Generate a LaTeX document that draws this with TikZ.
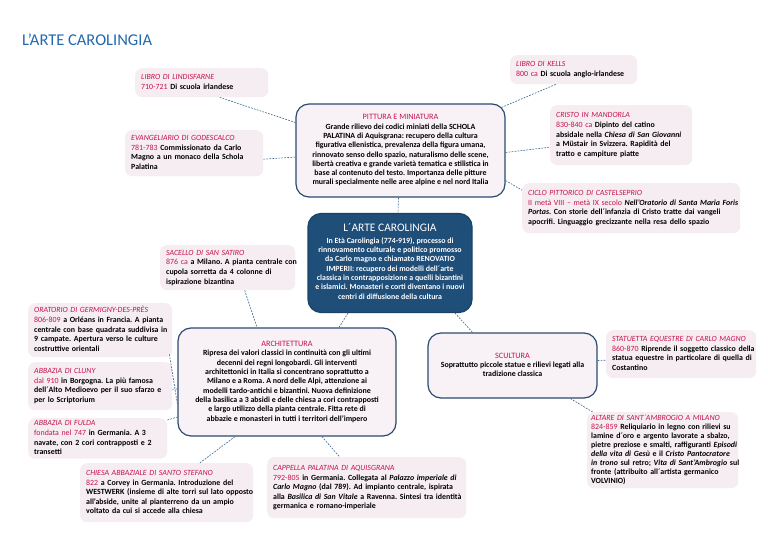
\documentclass[tikz,border=0pt]{standalone}
\usepackage{fontspec}
\setmainfont{Carlito}
\usetikzlibrary{calc}
\definecolor{titleblue}{HTML}{2469AE}
\definecolor{navy}{HTML}{1F4E79}
\definecolor{bord}{HTML}{2B4C70}
\definecolor{crim}{HTML}{C8124A}
\definecolor{leaf}{HTML}{F5EDF2}
\definecolor{boxfill}{HTML}{F8F1F6}
\definecolor{conncol}{HTML}{3A6690}
\newcommand{\hd}[1]{{\color{crim}\mdseries\itshape #1}}
\newcommand{\dt}[1]{{\color{crim}\mdseries #1}}
\newcommand{\sh}[1]{{\fontsize{8.2}{10}\selectfont\color{crim}\mdseries #1}}
\newcommand{\leaffont}{\fontsize{7.9}{9.6}\selectfont\bfseries\frenchspacing}
\newcommand{\bigfont}{\fontsize{7.9}{9.3}\selectfont\bfseries\frenchspacing}
\newcommand{\linesL}[1]{\begin{tabular}{@{}l@{}}#1\end{tabular}}
\newcommand{\linesC}[1]{\begin{tabular}{@{}c@{}}#1\end{tabular}}
\tikzset{
  leafbox/.style={fill=leaf, rounded corners=7pt, anchor=north west, align=left,
    inner xsep=6pt, inner ysep=3pt, font=\leaffont},
  bigbox/.style={draw=bord, line width=1.2pt, fill=boxfill, rounded corners=13pt,
    align=center, font=\bigfont, inner sep=4pt},
  conn/.style={draw=conncol, line width=0.6pt, dash pattern=on 1.8pt off 1.2pt}
}
\begin{document}
\begin{tikzpicture}[x=1pt,y=-1pt]
\useasboundingbox (0,0) rectangle (768,543);
\fill[white] (0,0) rectangle (768,543);

\node[anchor=west, inner sep=0pt, font=\fontsize{16.5}{19}\selectfont, text=titleblue] (title) at (22,40) {L’ARTE CAROLINGIA};

% big boxes
\node[bigbox, minimum width=209pt, minimum height=93pt] (pit) at (400.5,150.5)
 {\linesC{\sh{PITTURA E MINIATURA}\\
  Grande rilievo dei codici miniati della SCHOLA\\
  PALATINA di Aquisgrana: recupero della cultura\\
  figurativa ellenistica, prevalenza della figura umana,\\
  rinnovato senso dello spazio, naturalismo delle scene,\\
  libertà creativa e grande varietà tematica e stilistica in\\
  base al contenuto del testo. Importanza delle pitture\\
  murali specialmente nelle aree alpine e nel nord Italia}};

\node[bigbox, draw=navy!85!black, fill=navy, text=white, minimum width=164pt, minimum height=99pt] (cen) at (390,263)
 {\linesC{{\fontsize{11.5}{14}\selectfont\mdseries L´ARTE CAROLINGIA}\\[2pt]
  In Età Carolingia (774-919), processo di\\
  rinnovamento culturale e politico promosso\\
  da Carlo magno e chiamato RENOVATIO\\
  IMPERII: recupero dei modelli dell´arte\\
  classica in contrapposizione a quelli bizantini\\
  e islamici. Monasteri e corti diventano i nuovi\\
  centri di diffusione della cultura}};

\node[bigbox, minimum width=218pt, minimum height=108pt] (arch) at (287,382)
 {\linesC{\sh{ARCHITETTURA}\\
  Ripresa dei valori classici in continuità con gli ultimi\\
  decenni dei regni longobardi. Gli interventi\\
  architettonici in Italia si concentrano soprattutto a\\
  Milano e a Roma. A nord delle Alpi, attenzione ai\\
  modelli tardo-antichi e bizantini. Nuova definizione\\
  della basilica a 3 absidi e delle chiesa a cori contrapposti\\
  e largo utilizzo della pianta centrale. Fitta rete di\\
  abbazie e monasteri in tutti i territori dell'impero}};

\node[bigbox, minimum width=169pt, minimum height=65pt] (scu) at (512.5,365.5)
 {\linesC{\sh{SCULTURA}\\
  Soprattutto piccole statue e rilievi legati alla\\
  tradizione classica}};

% leaves
\node[leafbox, text width=121pt, minimum height=29pt] (lind) at (135,68)
 {\linesL{\hd{LIBRO DI LINDISFARNE}\\ \dt{710-721} Di scuola irlandese}};
\node[leafbox, text width=126pt, minimum height=46pt] (god) at (125,130)
 {\linesL{\hd{EVANGELIARIO DI GODESCALCO}\\ \dt{781-783} Commissionato da Carlo\\ Magno a un monaco della Schola\\ Palatina}};
\node[leafbox, text width=115pt, minimum height=29pt] (kells) at (510,55)
 {\linesL{\hd{LIBRO DI KELLS}\\ \dt{800 ca} Di scuola anglo-irlandese}};
\node[leafbox, text width=130pt, minimum height=60pt] (cristo) at (550,105)
 {\linesL{\hd{CRISTO IN MANDORLA}\\ \dt{830-840 ca} Dipinto del catino\\ absidale nella \textit{Chiesa di San Giovanni}\\ a Müstair in Svizzera. Rapidità del\\ tratto e campiture piatte}};
\node[leafbox, text width=206pt, minimum height=50pt] (ciclo) at (522,183)
 {\linesL{\hd{CICLO PITTORICO DI CASTELSEPRIO}\\ \dt{II metà VIII – metà IX secolo} \textit{Nell'Oratorio di Santa Maria Foris}\\ \textit{Portas}. Con storie dell´infanzia di Cristo tratte dai vangeli\\ apocrifi. Linguaggio grecizzante nella resa dello spazio}};
\node[leafbox, text width=123pt, minimum height=45pt] (sac) at (160,245)
 {\linesL{\hd{SACELLO DI SAN SATIRO}\\ \dt{876 ca} a Milano. A pianta centrale con\\ cupola sorretta da 4 colonne di\\ ispirazione bizantina}};
\node[leafbox, text width=132pt, minimum height=54pt] (ora) at (28,303)
 {\linesL{\hd{ORATORIO DI GERMIGNY-DES-PRÈS}\\ \dt{806-809} a Orléans in Francia. A pianta\\ centrale con base quadrata suddivisa in\\ 9 campate. Apertura verso le culture\\ costruttive orientali}};
\node[leafbox, text width=132pt, minimum height=48pt] (cluny) at (28,362)
 {\linesL{\hd{ABBAZIA DI CLUNY}\\ \dt{dal 910} in Borgogna. La più famosa\\ dell´Alto Medioevo per il suo sfarzo e\\ per lo Scriptorium}};
\node[leafbox, text width=127pt, minimum height=39pt, inner ysep=1pt] (fulda) at (28,418)
 {\linesL{\hd{ABBAZIA DI FULDA}\\ \dt{fondata nel 747} in Germania. A 3\\ navate, con 2 cori contrapposti e 2\\ transetti}};
\node[leafbox, text width=161pt, minimum height=59pt] (chiesa) at (80,463)
 {\linesL{\hd{CHIESA ABBAZIALE DI SANTO STEFANO}\\ \dt{822} a Corvey in Germania. Introduzione del\\ WESTWERK (insieme di alte torri sul lato opposto\\ all'abside, unite al pianterreno da un ampio\\ voltato da cui si accede alla chiesa}};
\node[leafbox, text width=187pt, minimum height=61pt] (cap) at (267,457)
 {\linesL{\hd{CAPPELLA PALATINA DI AQUISGRANA}\\ \dt{792-805} in Germania. Collegata al \textit{Palazzo imperiale di}\\ \textit{Carlo Magno} (dal 789). Ad impianto centrale, ispirata\\ alla \textit{Basilica di San Vitale} a Ravenna. Sintesi tra identità\\ germanica e romano-imperiale}};
\node[leafbox, text width=138pt, minimum height=48pt] (stat) at (606,330)
 {\linesL{\hd{STATUETTA EQUESTRE DI CARLO MAGNO}\\ \dt{860-870} Riprende il soggetto classico della\\ statua equestre in particolare di quella di\\ Costantino}};
\node[leafbox, text width=143pt, minimum height=76pt, inner xsep=4pt, inner ysep=1pt, font=\fontsize{7.9}{8.9}\selectfont\bfseries\frenchspacing] (alt) at (587,412)
 {\linesL{\hd{ALTARE DI SANT´AMBROGIO A MILANO}\\ \dt{824-859} Reliquiario in legno con rilievi su\\ lamine d´oro e argento lavorate a sbalzo,\\ pietre preziose e smalti, raffiguranti \textit{Episodi}\\ \textit{della vita di Gesù} e il \textit{Cristo Pantocratore}\\ \textit{in trono} sul retro; \textit{Vita di Sant'Ambrogio} sul\\ fronte (attribuito all´artista germanico\\ VOLVINIO)}};

% connectors
\draw[conn] ([xshift=18pt]lind.south) -- ([yshift=28pt]pit.west);
\draw[conn] ([yshift=-6pt]god.east) -- ([yshift=-6.5pt]pit.west);
\draw[conn] ([xshift=-18pt]kells.south) -- ([xshift=-4pt,yshift=-4pt]pit.north east);
\draw[conn] ([yshift=-2pt]pit.east) -- ([yshift=-12pt]cristo.west);
\draw[conn] ([yshift=-30pt]pit.east) -- ([yshift=18pt]ciclo.west);
\draw[conn] ([xshift=-2pt]pit.south) -- ([xshift=8pt]cen.north);
\draw[conn] ([xshift=-42pt]cen.south) -- ([xshift=52pt]arch.north);
\draw[conn] ([xshift=65pt]cen.south) -- ([xshift=-40pt]scu.north);
\draw[conn] ([xshift=17pt]sac.south) -- ([xshift=-30pt]arch.north);
\draw[conn] ([xshift=-3pt,yshift=3pt]ora.south east) -- ([yshift=-22pt]arch.west);
\draw[conn] ([yshift=-3pt]cluny.east) -- ([yshift=-7pt]arch.west);
\draw[conn] ([yshift=-2pt]fulda.north east) -- ([yshift=-35pt]arch.west);
\draw[conn] ([xshift=-52pt]arch.south) -- ([xshift=33pt]chiesa.north);
\draw[conn] ([xshift=35pt]arch.south) -- ([xshift=-27pt]cap.north);
\draw[conn] ([yshift=5pt]scu.east) -- ([yshift=-6pt]stat.west);
\draw[conn] ([xshift=58pt]scu.south) -- ([xshift=-70pt]alt.north);
\end{tikzpicture}
\end{document}
